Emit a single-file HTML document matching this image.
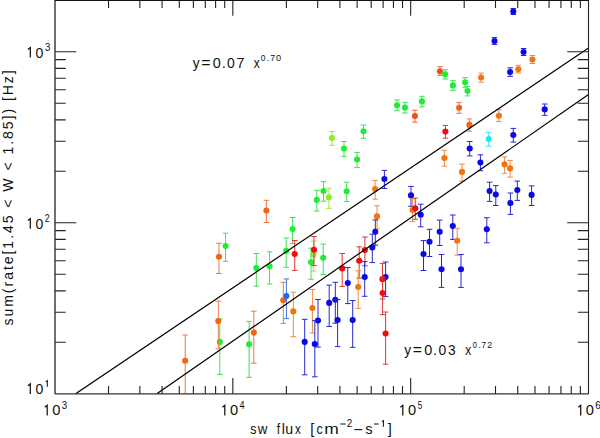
<!DOCTYPE html><html><head><meta charset="utf-8"><style>html,body{margin:0;padding:0;background:#fff;overflow:hidden;}svg{display:block;}text{font-family:"Liberation Sans",sans-serif;}</style></head><body>
<svg width="600" height="438" viewBox="0 0 600 438">
<rect width="600" height="438" fill="#fff"/>
<defs><clipPath id="pc"><rect x="55" y="0" width="533.5" height="394"/></clipPath></defs>
<g clip-path="url(#pc)">
<path d="M513.3 8.5V14.5M510.5 8.5h5.6M510.5 14.5h5.6" stroke="#2828d0" stroke-width="1" fill="none"/>
<circle cx="513.3" cy="11.5" r="3.05" fill="#0a0ae8"/>
<path d="M494.5 37.6V44.4M491.7 37.6h5.6M491.7 44.4h5.6" stroke="#2828d0" stroke-width="1" fill="none"/>
<circle cx="494.5" cy="41.1" r="3.05" fill="#0a0ae8"/>
<path d="M523.6 48.5V55.5M520.8 48.5h5.6M520.8 55.5h5.6" stroke="#2828d0" stroke-width="1" fill="none"/>
<circle cx="523.6" cy="52.0" r="3.05" fill="#0a0ae8"/>
<path d="M532.4 55.5V63.5M529.6 55.5h5.6M529.6 63.5h5.6" stroke="#f08a40" stroke-width="1" fill="none"/>
<circle cx="532.4" cy="59.5" r="3.05" fill="#f07412"/>
<path d="M518.3 65.3V72.9M515.5 65.3h5.6M515.5 72.9h5.6" stroke="#f08a40" stroke-width="1" fill="none"/>
<circle cx="518.3" cy="69.2" r="3.05" fill="#f07412"/>
<path d="M510.1 67.8V76.4M507.3 67.8h5.6M507.3 76.4h5.6" stroke="#2828d0" stroke-width="1" fill="none"/>
<circle cx="510.1" cy="72.0" r="3.05" fill="#0a0ae8"/>
<path d="M481.1 73.1V82.2M478.3 73.1h5.6M478.3 82.2h5.6" stroke="#f08a40" stroke-width="1" fill="none"/>
<circle cx="481.1" cy="77.5" r="3.05" fill="#f07412"/>
<path d="M440.0 66.7V75.3M437.2 66.7h5.6M437.2 75.3h5.6" stroke="#e86a40" stroke-width="1" fill="none"/>
<circle cx="440.0" cy="71.2" r="3.05" fill="#f05014"/>
<path d="M445.1 69.8V79.0M442.3 69.8h5.6M442.3 79.0h5.6" stroke="#40e058" stroke-width="1" fill="none"/>
<circle cx="445.1" cy="74.3" r="3.05" fill="#1eee32"/>
<path d="M452.9 80.7V90.3M450.1 80.7h5.6M450.1 90.3h5.6" stroke="#40e058" stroke-width="1" fill="none"/>
<circle cx="452.9" cy="85.4" r="3.05" fill="#1eee32"/>
<path d="M465.1 77.6V87.3M462.3 77.6h5.6M462.3 87.3h5.6" stroke="#40e058" stroke-width="1" fill="none"/>
<circle cx="465.1" cy="82.3" r="3.05" fill="#1eee32"/>
<path d="M467.5 86.4V95.9M464.7 86.4h5.6M464.7 95.9h5.6" stroke="#40e058" stroke-width="1" fill="none"/>
<circle cx="467.5" cy="91.0" r="3.05" fill="#1eee32"/>
<path d="M397.0 99.9V110.7M394.2 99.9h5.6M394.2 110.7h5.6" stroke="#40e058" stroke-width="1" fill="none"/>
<circle cx="397.0" cy="105.2" r="3.05" fill="#1eee32"/>
<path d="M404.9 102.3V113.0M402.1 102.3h5.6M402.1 113.0h5.6" stroke="#40e058" stroke-width="1" fill="none"/>
<circle cx="404.9" cy="107.6" r="3.05" fill="#1eee32"/>
<path d="M421.9 96.3V106.9M419.1 96.3h5.6M419.1 106.9h5.6" stroke="#40e058" stroke-width="1" fill="none"/>
<circle cx="421.9" cy="101.4" r="3.05" fill="#1eee32"/>
<path d="M414.9 110.2V122.2M412.1 110.2h5.6M412.1 122.2h5.6" stroke="#e86a40" stroke-width="1" fill="none"/>
<circle cx="414.9" cy="116.0" r="3.05" fill="#f05014"/>
<path d="M459.1 102.4V113.3M456.3 102.4h5.6M456.3 113.3h5.6" stroke="#ee7a40" stroke-width="1" fill="none"/>
<circle cx="459.1" cy="107.7" r="3.05" fill="#f06412"/>
<path d="M469.4 118.9V131.2M466.6 118.9h5.6M466.6 131.2h5.6" stroke="#ee7a40" stroke-width="1" fill="none"/>
<circle cx="469.4" cy="124.9" r="3.05" fill="#f06412"/>
<path d="M445.4 125.4V138.2M442.6 125.4h5.6M442.6 138.2h5.6" stroke="#dc3838" stroke-width="1" fill="none"/>
<circle cx="445.4" cy="131.6" r="3.05" fill="#f00c0c"/>
<path d="M498.9 109.7V121.6M496.1 109.7h5.6M496.1 121.6h5.6" stroke="#f08a40" stroke-width="1" fill="none"/>
<circle cx="498.9" cy="115.7" r="3.05" fill="#f07412"/>
<path d="M544.7 104.0V115.3M541.9 104.0h5.6M541.9 115.3h5.6" stroke="#2828d0" stroke-width="1" fill="none"/>
<circle cx="544.7" cy="109.4" r="3.05" fill="#0a0ae8"/>
<path d="M488.7 132.3V146.2M485.9 132.3h5.6M485.9 146.2h5.6" stroke="#40e0ee" stroke-width="1" fill="none"/>
<circle cx="488.7" cy="139.0" r="3.05" fill="#1ee8f2"/>
<path d="M513.3 128.4V142.1M510.5 128.4h5.6M510.5 142.1h5.6" stroke="#2828d0" stroke-width="1" fill="none"/>
<circle cx="513.3" cy="135.0" r="3.05" fill="#0a0ae8"/>
<path d="M469.7 141.5V155.9M466.9 141.5h5.6M466.9 155.9h5.6" stroke="#2828d0" stroke-width="1" fill="none"/>
<circle cx="469.7" cy="148.5" r="3.05" fill="#0a0ae8"/>
<path d="M444.4 150.3V166.2M441.6 150.3h5.6M441.6 166.2h5.6" stroke="#f08a40" stroke-width="1" fill="none"/>
<circle cx="444.4" cy="158.1" r="3.05" fill="#f07412"/>
<path d="M480.4 154.8V170.7M477.6 154.8h5.6M477.6 170.7h5.6" stroke="#2828d0" stroke-width="1" fill="none"/>
<circle cx="480.4" cy="162.5" r="3.05" fill="#0a0ae8"/>
<path d="M462.0 164.1V181.2M459.2 164.1h5.6M459.2 181.2h5.6" stroke="#f08a40" stroke-width="1" fill="none"/>
<circle cx="462.0" cy="171.9" r="3.05" fill="#f07412"/>
<path d="M504.6 156.9V173.3M501.8 156.9h5.6M501.8 173.3h5.6" stroke="#f08a40" stroke-width="1" fill="none"/>
<circle cx="504.6" cy="164.4" r="3.05" fill="#f07412"/>
<path d="M510.1 160.4V177.1M507.3 160.4h5.6M507.3 177.1h5.6" stroke="#f08a40" stroke-width="1" fill="none"/>
<circle cx="510.1" cy="168.4" r="3.05" fill="#f07412"/>
<path d="M489.6 182.2V201.4M486.8 182.2h5.6M486.8 201.4h5.6" stroke="#2828d0" stroke-width="1" fill="none"/>
<circle cx="489.6" cy="191.1" r="3.05" fill="#0a0ae8"/>
<path d="M495.8 185.6V205.5M493.0 185.6h5.6M493.0 205.5h5.6" stroke="#2828d0" stroke-width="1" fill="none"/>
<circle cx="495.8" cy="194.5" r="3.05" fill="#0a0ae8"/>
<path d="M510.4 193.0V214.4M507.6 193.0h5.6M507.6 214.4h5.6" stroke="#2828d0" stroke-width="1" fill="none"/>
<circle cx="510.4" cy="203.0" r="3.05" fill="#0a0ae8"/>
<path d="M517.3 181.1V200.4M514.5 181.1h5.6M514.5 200.4h5.6" stroke="#2828d0" stroke-width="1" fill="none"/>
<circle cx="517.3" cy="190.0" r="3.05" fill="#0a0ae8"/>
<path d="M531.6 185.9V205.5M528.8 185.9h5.6M528.8 205.5h5.6" stroke="#2828d0" stroke-width="1" fill="none"/>
<circle cx="531.6" cy="194.9" r="3.05" fill="#0a0ae8"/>
<path d="M486.8 217.7V242.8M484.0 217.7h5.6M484.0 242.8h5.6" stroke="#2828d0" stroke-width="1" fill="none"/>
<circle cx="486.8" cy="229.3" r="3.05" fill="#0a0ae8"/>
<path d="M331.9 131.5V145.3M329.1 131.5h5.6M329.1 145.3h5.6" stroke="#a0e848" stroke-width="1" fill="none"/>
<circle cx="331.9" cy="138.1" r="3.05" fill="#90ee20"/>
<path d="M344.0 141.5V156.3M341.2 141.5h5.6M341.2 156.3h5.6" stroke="#40e058" stroke-width="1" fill="none"/>
<circle cx="344.0" cy="148.6" r="3.05" fill="#1eee32"/>
<path d="M363.5 125.0V138.2M360.7 125.0h5.6M360.7 138.2h5.6" stroke="#40e058" stroke-width="1" fill="none"/>
<circle cx="363.5" cy="131.3" r="3.05" fill="#1eee32"/>
<path d="M357.1 152.4V167.6M354.3 152.4h5.6M354.3 167.6h5.6" stroke="#40e058" stroke-width="1" fill="none"/>
<circle cx="357.1" cy="159.5" r="3.05" fill="#1eee32"/>
<path d="M316.8 190.3V211.1M314.0 190.3h5.6M314.0 211.1h5.6" stroke="#40e058" stroke-width="1" fill="none"/>
<circle cx="316.8" cy="199.9" r="3.05" fill="#1eee32"/>
<path d="M323.5 181.7V201.2M320.7 181.7h5.6M320.7 201.2h5.6" stroke="#40e058" stroke-width="1" fill="none"/>
<circle cx="323.5" cy="191.0" r="3.05" fill="#1eee32"/>
<path d="M328.9 188.2V208.4M326.1 188.2h5.6M326.1 208.4h5.6" stroke="#a0e848" stroke-width="1" fill="none"/>
<circle cx="328.9" cy="197.4" r="3.05" fill="#90ee20"/>
<path d="M346.7 182.2V201.5M343.9 182.2h5.6M343.9 201.5h5.6" stroke="#40e058" stroke-width="1" fill="none"/>
<circle cx="346.7" cy="191.3" r="3.05" fill="#1eee32"/>
<path d="M375.1 180.4V199.2M372.3 180.4h5.6M372.3 199.2h5.6" stroke="#f08a40" stroke-width="1" fill="none"/>
<circle cx="375.1" cy="189.1" r="3.05" fill="#f07412"/>
<path d="M384.4 170.4V188.5M381.6 170.4h5.6M381.6 188.5h5.6" stroke="#2828d0" stroke-width="1" fill="none"/>
<circle cx="384.4" cy="179.0" r="3.05" fill="#0a0ae8"/>
<path d="M377.0 205.8V228.9M374.2 205.8h5.6M374.2 228.9h5.6" stroke="#f08a40" stroke-width="1" fill="none"/>
<circle cx="377.0" cy="216.4" r="3.05" fill="#f07412"/>
<path d="M375.3 219.9V245.2M372.5 219.9h5.6M372.5 245.2h5.6" stroke="#2828d0" stroke-width="1" fill="none"/>
<circle cx="375.3" cy="231.8" r="3.05" fill="#0a0ae8"/>
<path d="M372.3 234.2V262.6M369.5 234.2h5.6M369.5 262.6h5.6" stroke="#2828d0" stroke-width="1" fill="none"/>
<circle cx="372.3" cy="247.4" r="3.05" fill="#0a0ae8"/>
<path d="M364.9 237.0V265.8M362.1 237.0h5.6M362.1 265.8h5.6" stroke="#dc3838" stroke-width="1" fill="none"/>
<circle cx="364.9" cy="250.1" r="3.05" fill="#f00c0c"/>
<path d="M359.2 246.8V278.1M356.4 246.8h5.6M356.4 278.1h5.6" stroke="#dc3838" stroke-width="1" fill="none"/>
<circle cx="359.2" cy="260.8" r="3.05" fill="#f00c0c"/>
<path d="M342.2 253.5V286.4M339.4 253.5h5.6M339.4 286.4h5.6" stroke="#dc3838" stroke-width="1" fill="none"/>
<circle cx="342.2" cy="268.4" r="3.05" fill="#f00c0c"/>
<path d="M411.0 186.4V206.3M408.2 186.4h5.6M408.2 206.3h5.6" stroke="#2828d0" stroke-width="1" fill="none"/>
<circle cx="411.0" cy="195.4" r="3.05" fill="#0a0ae8"/>
<path d="M412.6 198.8V221.4M409.8 198.8h5.6M409.8 221.4h5.6" stroke="#f08a40" stroke-width="1" fill="none"/>
<circle cx="412.6" cy="210.0" r="3.05" fill="#f07412"/>
<path d="M415.3 198.1V219.3M412.5 198.1h5.6M412.5 219.3h5.6" stroke="#dc3838" stroke-width="1" fill="none"/>
<circle cx="415.3" cy="208.3" r="3.05" fill="#f00c0c"/>
<path d="M420.7 204.2V226.8M417.9 204.2h5.6M417.9 226.8h5.6" stroke="#2828d0" stroke-width="1" fill="none"/>
<circle cx="420.7" cy="214.7" r="3.05" fill="#0a0ae8"/>
<path d="M452.8 215.0V239.4M450.0 215.0h5.6M450.0 239.4h5.6" stroke="#2828d0" stroke-width="1" fill="none"/>
<circle cx="452.8" cy="226.1" r="3.05" fill="#0a0ae8"/>
<path d="M439.7 220.1V245.5M436.9 220.1h5.6M436.9 245.5h5.6" stroke="#2828d0" stroke-width="1" fill="none"/>
<circle cx="439.7" cy="231.8" r="3.05" fill="#0a0ae8"/>
<path d="M457.2 228.3V255.2M454.4 228.3h5.6M454.4 255.2h5.6" stroke="#f08a40" stroke-width="1" fill="none"/>
<circle cx="457.2" cy="240.8" r="3.05" fill="#f07412"/>
<path d="M429.5 229.3V256.5M426.7 229.3h5.6M426.7 256.5h5.6" stroke="#2828d0" stroke-width="1" fill="none"/>
<circle cx="429.5" cy="241.7" r="3.05" fill="#0a0ae8"/>
<path d="M423.5 240.6V270.5M420.7 240.6h5.6M420.7 270.5h5.6" stroke="#2828d0" stroke-width="1" fill="none"/>
<circle cx="423.5" cy="254.0" r="3.05" fill="#0a0ae8"/>
<path d="M441.5 254.5V287.4M438.7 254.5h5.6M438.7 287.4h5.6" stroke="#2828d0" stroke-width="1" fill="none"/>
<circle cx="441.5" cy="269.2" r="3.05" fill="#0a0ae8"/>
<path d="M461.0 254.5V287.4M458.2 254.5h5.6M458.2 287.4h5.6" stroke="#2828d0" stroke-width="1" fill="none"/>
<circle cx="461.0" cy="269.2" r="3.05" fill="#0a0ae8"/>
<path d="M266.4 200.3V222.5M263.6 200.3h5.6M263.6 222.5h5.6" stroke="#ee7a40" stroke-width="1" fill="none"/>
<circle cx="266.4" cy="210.6" r="3.05" fill="#f06412"/>
<path d="M292.6 217.5V243.6M289.8 217.5h5.6M289.8 243.6h5.6" stroke="#40e058" stroke-width="1" fill="none"/>
<circle cx="292.6" cy="229.1" r="3.05" fill="#1eee32"/>
<path d="M219.0 243.3V273.5M216.2 243.3h5.6M216.2 273.5h5.6" stroke="#ee7a40" stroke-width="1" fill="none"/>
<circle cx="219.0" cy="256.8" r="3.05" fill="#f06412"/>
<path d="M225.6 233.2V261.3M222.8 233.2h5.6M222.8 261.3h5.6" stroke="#40e058" stroke-width="1" fill="none"/>
<circle cx="225.6" cy="246.0" r="3.05" fill="#1eee32"/>
<path d="M256.3 253.5V286.2M253.5 253.5h5.6M253.5 286.2h5.6" stroke="#40e058" stroke-width="1" fill="none"/>
<circle cx="256.3" cy="268.0" r="3.05" fill="#1eee32"/>
<path d="M269.6 251.8V284.0M266.8 251.8h5.6M266.8 284.0h5.6" stroke="#40e058" stroke-width="1" fill="none"/>
<circle cx="269.6" cy="266.2" r="3.05" fill="#1eee32"/>
<path d="M286.2 238.0V267.3M283.4 238.0h5.6M283.4 267.3h5.6" stroke="#40e058" stroke-width="1" fill="none"/>
<circle cx="286.2" cy="250.9" r="3.05" fill="#1eee32"/>
<path d="M294.7 240.5V270.4M291.9 240.5h5.6M291.9 270.4h5.6" stroke="#dc3838" stroke-width="1" fill="none"/>
<circle cx="294.7" cy="254.0" r="3.05" fill="#f00c0c"/>
<path d="M313.6 241.0V271.1M310.8 241.0h5.6M310.8 271.1h5.6" stroke="#a0e848" stroke-width="1" fill="none"/>
<circle cx="313.6" cy="254.7" r="3.05" fill="#90ee20"/>
<path d="M311.0 248.2V279.3M308.2 248.2h5.6M308.2 279.3h5.6" stroke="#40e058" stroke-width="1" fill="none"/>
<circle cx="311.0" cy="262.2" r="3.05" fill="#1eee32"/>
<path d="M314.0 236.5V265.6M311.2 236.5h5.6M311.2 265.6h5.6" stroke="#dc3838" stroke-width="1" fill="none"/>
<circle cx="314.0" cy="249.8" r="3.05" fill="#f00c0c"/>
<path d="M323.2 244.1V274.5M320.4 244.1h5.6M320.4 274.5h5.6" stroke="#40e058" stroke-width="1" fill="none"/>
<circle cx="323.2" cy="257.7" r="3.05" fill="#1eee32"/>
<path d="M283.3 282.3V323.4M280.5 282.3h5.6M280.5 323.4h5.6" stroke="#ee7a40" stroke-width="1" fill="none"/>
<circle cx="283.3" cy="300.3" r="3.05" fill="#f06412"/>
<path d="M286.4 278.9V318.6M283.6 278.9h5.6M283.6 318.6h5.6" stroke="#3a78e8" stroke-width="1" fill="none"/>
<circle cx="286.4" cy="296.0" r="3.05" fill="#1a6af0"/>
<path d="M293.3 292.2V336.7M290.5 292.2h5.6M290.5 336.7h5.6" stroke="#f08a40" stroke-width="1" fill="none"/>
<circle cx="293.3" cy="311.4" r="3.05" fill="#f07412"/>
<path d="M312.4 289.5V333.0M309.6 289.5h5.6M309.6 333.0h5.6" stroke="#f08a40" stroke-width="1" fill="none"/>
<circle cx="312.4" cy="308.1" r="3.05" fill="#f07412"/>
<path d="M318.0 299.5V347.1M315.2 299.5h5.6M315.2 347.1h5.6" stroke="#2828d0" stroke-width="1" fill="none"/>
<circle cx="318.0" cy="320.5" r="3.05" fill="#0a0ae8"/>
<path d="M329.2 285.1V326.5M326.4 285.1h5.6M326.4 326.5h5.6" stroke="#2828d0" stroke-width="1" fill="none"/>
<circle cx="329.2" cy="302.9" r="3.05" fill="#0a0ae8"/>
<path d="M335.3 282.3V323.2M332.5 282.3h5.6M332.5 323.2h5.6" stroke="#2828d0" stroke-width="1" fill="none"/>
<circle cx="335.3" cy="299.7" r="3.05" fill="#0a0ae8"/>
<path d="M337.6 299.5V346.6M334.8 299.5h5.6M334.8 346.6h5.6" stroke="#2828d0" stroke-width="1" fill="none"/>
<circle cx="337.6" cy="320.0" r="3.05" fill="#0a0ae8"/>
<path d="M347.8 267.4V303.6M345.0 267.4h5.6M345.0 303.6h5.6" stroke="#2828d0" stroke-width="1" fill="none"/>
<circle cx="347.8" cy="283.1" r="3.05" fill="#0a0ae8"/>
<path d="M358.2 270.8V308.4M355.4 270.8h5.6M355.4 308.4h5.6" stroke="#f08a40" stroke-width="1" fill="none"/>
<circle cx="358.2" cy="287.0" r="3.05" fill="#f07412"/>
<path d="M364.7 261.6V296.3M361.9 261.6h5.6M361.9 296.3h5.6" stroke="#2828d0" stroke-width="1" fill="none"/>
<circle cx="364.7" cy="277.0" r="3.05" fill="#0a0ae8"/>
<path d="M385.6 262.0V296.6M382.8 262.0h5.6M382.8 296.6h5.6" stroke="#2828d0" stroke-width="1" fill="none"/>
<circle cx="385.6" cy="277.1" r="3.05" fill="#0a0ae8"/>
<path d="M382.5 263.4V299.0M379.7 263.4h5.6M379.7 299.0h5.6" stroke="#dc3838" stroke-width="1" fill="none"/>
<circle cx="382.5" cy="279.2" r="3.05" fill="#f00c0c"/>
<path d="M382.6 277.0V314.6M379.8 277.0h5.6M379.8 314.6h5.6" stroke="#dc3838" stroke-width="1" fill="none"/>
<circle cx="382.6" cy="293.0" r="3.05" fill="#f00c0c"/>
<path d="M385.6 312.0V364.2M382.8 312.0h5.6M382.8 364.2h5.6" stroke="#dc3838" stroke-width="1" fill="none"/>
<circle cx="385.6" cy="333.5" r="3.05" fill="#f00c0c"/>
<path d="M352.7 300.5V347.3M349.9 300.5h5.6M349.9 347.3h5.6" stroke="#2828d0" stroke-width="1" fill="none"/>
<circle cx="352.7" cy="320.1" r="3.05" fill="#0a0ae8"/>
<path d="M304.7 319.3V374.8M301.9 319.3h5.6M301.9 374.8h5.6" stroke="#2828d0" stroke-width="1" fill="none"/>
<circle cx="304.7" cy="341.9" r="3.05" fill="#0a0ae8"/>
<path d="M314.8 320.7V376.8M312.0 320.7h5.6M312.0 376.8h5.6" stroke="#2828d0" stroke-width="1" fill="none"/>
<circle cx="314.8" cy="344.0" r="3.05" fill="#0a0ae8"/>
<path d="M219.8 319.0V374.4M217.0 319.0h5.6M217.0 374.4h5.6" stroke="#40e058" stroke-width="1" fill="none"/>
<circle cx="219.8" cy="341.9" r="3.05" fill="#1eee32"/>
<path d="M218.3 301.2V348.8M215.5 301.2h5.6M215.5 348.8h5.6" stroke="#ee7a40" stroke-width="1" fill="none"/>
<circle cx="218.3" cy="321.1" r="3.05" fill="#f06412"/>
<path d="M249.1 321.4V377.3M246.3 321.4h5.6M246.3 377.3h5.6" stroke="#40e058" stroke-width="1" fill="none"/>
<circle cx="249.1" cy="344.2" r="3.05" fill="#1eee32"/>
<path d="M253.8 311.2V363.2M251.0 311.2h5.6M251.0 363.2h5.6" stroke="#ee7a40" stroke-width="1" fill="none"/>
<circle cx="253.8" cy="332.6" r="3.05" fill="#f06412"/>
<path d="M185.2 335.0V400.0M182.4 335.0h5.6M182.4 400.0h5.6" stroke="#ee7a40" stroke-width="1" fill="none"/>
<circle cx="185.2" cy="360.8" r="3.05" fill="#f06412"/>
</g>
<g clip-path="url(#pc)" stroke="#000" stroke-width="1.2" fill="none">
<line x1="75.6" y1="393.8" x2="588.5" y2="48.0"/>
<line x1="156.8" y1="393.8" x2="588.5" y2="94.6"/>
</g>
<path d="M108.53 393.9v-7.9M108.53 0v7.9M139.85 393.9v-7.9M139.85 0v7.9M162.07 393.9v-7.9M162.07 0v7.9M179.30 393.9v-7.9M179.30 0v7.9M193.38 393.9v-7.9M193.38 0v7.9M205.29 393.9v-7.9M205.29 0v7.9M215.60 393.9v-7.9M215.60 0v7.9M224.70 393.9v-7.9M224.70 0v7.9M232.83 393.9v-15.8M232.83 0v15.8M286.37 393.9v-7.9M286.37 0v7.9M317.68 393.9v-7.9M317.68 0v7.9M339.90 393.9v-7.9M339.90 0v7.9M357.13 393.9v-7.9M357.13 0v7.9M371.21 393.9v-7.9M371.21 0v7.9M383.12 393.9v-7.9M383.12 0v7.9M393.43 393.9v-7.9M393.43 0v7.9M402.53 393.9v-7.9M402.53 0v7.9M410.67 393.9v-15.8M410.67 0v15.8M464.20 393.9v-7.9M464.20 0v7.9M495.51 393.9v-7.9M495.51 0v7.9M517.73 393.9v-7.9M517.73 0v7.9M534.97 393.9v-7.9M534.97 0v7.9M549.05 393.9v-7.9M549.05 0v7.9M560.95 393.9v-7.9M560.95 0v7.9M571.27 393.9v-7.9M571.27 0v7.9M580.36 393.9v-7.9M580.36 0v7.9M55 342.32h10.7M588.5 342.32h-10.7M55 312.21h10.7M588.5 312.21h-10.7M55 290.85h10.7M588.5 290.85h-10.7M55 274.28h10.7M588.5 274.28h-10.7M55 260.74h10.7M588.5 260.74h-10.7M55 249.29h10.7M588.5 249.29h-10.7M55 239.37h10.7M588.5 239.37h-10.7M55 230.62h10.7M588.5 230.62h-10.7M55 222.80h21.3M588.5 222.80h-21.3M55 171.32h10.7M588.5 171.32h-10.7M55 141.21h10.7M588.5 141.21h-10.7M55 119.85h10.7M588.5 119.85h-10.7M55 103.28h10.7M588.5 103.28h-10.7M55 89.74h10.7M588.5 89.74h-10.7M55 78.29h10.7M588.5 78.29h-10.7M55 68.37h10.7M588.5 68.37h-10.7M55 59.62h10.7M588.5 59.62h-10.7M55 51.80h21.3M588.5 51.80h-21.3M55 0.32h10.7M588.5 0.32h-10.7" stroke="#222" stroke-width="1.1" fill="none"/>
<path d="M55 0V393.9" stroke="#333" stroke-width="1.4" fill="none"/>
<path d="M55 393.9H588.5" stroke="#333" stroke-width="1.4" fill="none"/>
<path d="M55 0.5H588.5" stroke="#111" stroke-width="1.1" fill="none"/>
<path d="M588.5 0V393.9" stroke="#222" stroke-width="1.1" fill="none"/>
<path d="M27.90 49.40L30.30 47.50V57.60" stroke="#111" stroke-width="1.25" fill="none" stroke-linejoin="miter"/>
<text transform="matrix(0.9470 0 0 1 35.45 57.60)" font-size="14.8" fill="#111">0</text>
<text transform="matrix(0.9512 0 0 1 44.93 50.50)" font-size="10.2" fill="#111">3</text>
<path d="M27.90 220.60L30.30 218.70V228.80" stroke="#111" stroke-width="1.25" fill="none" stroke-linejoin="miter"/>
<text transform="matrix(0.9470 0 0 1 35.45 228.80)" font-size="14.8" fill="#111">0</text>
<text transform="matrix(0.8608 0 0 1 44.76 221.60)" font-size="10.2" fill="#111">2</text>
<path d="M27.90 385.80L30.30 383.90V394.00" stroke="#111" stroke-width="1.25" fill="none" stroke-linejoin="miter"/>
<text transform="matrix(0.9470 0 0 1 35.45 394.00)" font-size="14.8" fill="#111">0</text>
<path d="M45.80 381.90L47.30 380.70V386.80" stroke="#111" stroke-width="1.05" fill="none" stroke-linejoin="miter"/>
<path d="M44.80 407.20L47.20 405.30V415.40" stroke="#111" stroke-width="1.25" fill="none" stroke-linejoin="miter"/>
<text transform="matrix(0.9894 0 0 1 52.33 415.40)" font-size="14.8" fill="#111">0</text>
<text transform="matrix(0.9329 0 0 1 61.73 408.70)" font-size="10.4" fill="#111">3</text>
<path d="M222.40 407.20L224.80 405.30V415.40" stroke="#111" stroke-width="1.25" fill="none" stroke-linejoin="miter"/>
<text transform="matrix(0.9894 0 0 1 229.93 415.40)" font-size="14.8" fill="#111">0</text>
<text transform="matrix(0.8778 0 0 1 239.39 408.70)" font-size="10.4" fill="#111">4</text>
<path d="M400.40 407.20L402.80 405.30V415.40" stroke="#111" stroke-width="1.25" fill="none" stroke-linejoin="miter"/>
<text transform="matrix(0.9894 0 0 1 407.93 415.40)" font-size="14.8" fill="#111">0</text>
<text transform="matrix(0.7707 0 0 1 417.68 408.70)" font-size="10.4" fill="#111">5</text>
<path d="M578.30 407.20L580.70 405.30V415.40" stroke="#111" stroke-width="1.25" fill="none" stroke-linejoin="miter"/>
<text transform="matrix(0.9894 0 0 1 585.83 415.40)" font-size="14.8" fill="#111">0</text>
<text transform="matrix(0.9377 0 0 1 595.30 408.70)" font-size="10.4" fill="#111">6</text>
<text transform="matrix(0.8846 0 0 1 250.26 433.60)" font-size="14.0" fill="#111">s</text>
<text transform="matrix(0.9543 0 0 1 257.72 433.60)" font-size="14.0" fill="#111">w</text>
<text transform="matrix(0.8621 0 0 1 276.63 433.60)" font-size="14.0" fill="#111">f</text>
<text transform="matrix(1.0000 0 0 1 281.64 433.60)" font-size="14.0" fill="#111">l</text>
<text transform="matrix(1.0089 0 0 1 285.28 433.60)" font-size="14.0" fill="#111">u</text>
<text transform="matrix(0.8368 0 0 1 295.07 433.60)" font-size="14.0" fill="#111">x</text>
<text transform="matrix(1.0000 0 0 1 310.13 433.60)" font-size="14.5" fill="#111">[</text>
<text transform="matrix(0.8946 0 0 1 316.57 433.60)" font-size="14.0" fill="#111">c</text>
<text transform="matrix(1.2437 0 0 1 324.34 433.60)" font-size="14.0" fill="#111">m</text>
<rect x="340.30" y="423.50" width="5.30" height="1.0" fill="#111"/>
<text transform="matrix(0.9878 0 0 1 346.70 426.80)" font-size="10.0" fill="#111">2</text>
<rect x="354.40" y="429.05" width="8.00" height="1.1" fill="#111"/>
<text transform="matrix(1.0484 0 0 1 365.19 433.60)" font-size="14.0" fill="#111">s</text>
<rect x="374.00" y="423.50" width="4.70" height="1.0" fill="#111"/>
<path d="M381.90 421.90L383.40 420.70V426.80" stroke="#111" stroke-width="1.05" fill="none" stroke-linejoin="miter"/>
<text transform="matrix(1.0000 0 0 1 387.75 433.60)" font-size="14.5" fill="#111">]</text>
<text transform="matrix(0.9800 0 0 1 192.87 67.90)" font-size="14.0" fill="#111">y</text>
<text transform="matrix(1.0639 0 0 1 201.28 67.90)" font-size="14.8" fill="#111">=</text>
<text transform="matrix(0.9753 0 0 1 212.74 67.90)" font-size="14.8" fill="#111">0</text>
<text transform="matrix(1.0000 0 0 1 221.69 67.90)" font-size="14.8" fill="#111">.</text>
<text transform="matrix(0.9400 0 0 1 227.01 67.90)" font-size="14.8" fill="#111">0</text>
<text transform="matrix(0.9661 0 0 1 236.47 67.90)" font-size="14.8" fill="#111">7</text>
<text transform="matrix(0.8517 0 0 1 253.87 67.90)" font-size="14.0" fill="#111">x</text>
<text transform="matrix(0.8538 0 0 1 260.87 60.60)" font-size="9.8" fill="#111">0</text>
<text transform="matrix(1.0000 0 0 1 266.64 60.60)" font-size="9.8" fill="#111">.</text>
<text transform="matrix(0.8979 0 0 1 270.35 60.60)" font-size="9.8" fill="#111">7</text>
<text transform="matrix(0.9392 0 0 1 276.04 60.60)" font-size="9.8" fill="#111">0</text>
<text transform="matrix(0.9800 0 0 1 404.27 355.20)" font-size="14.0" fill="#111">y</text>
<text transform="matrix(1.0639 0 0 1 412.68 355.20)" font-size="14.8" fill="#111">=</text>
<text transform="matrix(0.9753 0 0 1 424.14 355.20)" font-size="14.8" fill="#111">0</text>
<text transform="matrix(1.0000 0 0 1 433.09 355.20)" font-size="14.8" fill="#111">.</text>
<text transform="matrix(0.9400 0 0 1 438.41 355.20)" font-size="14.8" fill="#111">0</text>
<text transform="matrix(0.9263 0 0 1 448.08 355.20)" font-size="14.8" fill="#111">3</text>
<text transform="matrix(0.8517 0 0 1 465.27 355.20)" font-size="14.0" fill="#111">x</text>
<text transform="matrix(0.7685 0 0 1 472.71 347.90)" font-size="9.8" fill="#111">0</text>
<text transform="matrix(1.0000 0 0 1 478.24 347.90)" font-size="9.8" fill="#111">.</text>
<text transform="matrix(0.8305 0 0 1 481.58 347.90)" font-size="9.8" fill="#111">7</text>
<text transform="matrix(0.8959 0 0 1 487.36 347.90)" font-size="9.8" fill="#111">2</text>
<text transform="translate(12.8,0) rotate(-90)" x="-325.49" y="0" font-size="14.0" letter-spacing="1.970" fill="#111">sum(rate[1.45 &lt; W &lt; 1.85]) [Hz]</text>
</svg></body></html>
